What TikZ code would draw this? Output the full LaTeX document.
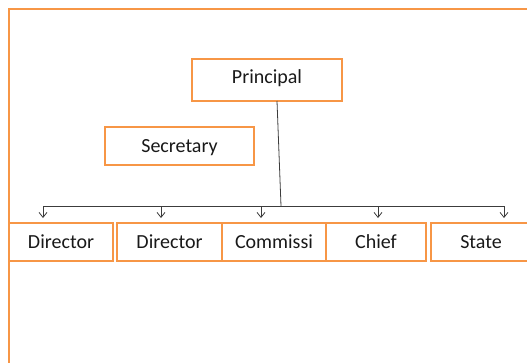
\documentclass[tikz,border=0pt]{standalone}
\usepackage{fontspec}
\setmainfont{Carlito}
\usepackage{tikz}
\usetikzlibrary{positioning,arrows.meta}

\definecolor{frameorange}{RGB}{247,150,70}
\definecolor{linegray}{RGB}{60,60,60}

\tikzset{
  post/.style={draw=frameorange,line width=2pt,rectangle,inner sep=0pt,outer sep=0pt,
    minimum height=38pt,text height=14pt,text depth=2pt,
    font=\fontsize{20}{22}\selectfont,text=black!90},
  wire/.style={draw=linegray,line width=0.8pt},
}

\begin{document}
\begin{tikzpicture}[x=1pt,y=-1pt,node distance=4pt,>={Straight Barb[length=5pt,width=8pt]}]
      \useasboundingbox (0,0) rectangle (527,362);
      % page frame
      \draw[frameorange,line width=2pt] (9,9) rectangle (560,400);
      % top
      \node[post,minimum width=150pt,minimum height=42pt,text depth=8pt] (prin) at (267,80) {Principal};
      \node[post,minimum width=149pt] (sec) at (179.5,146) {Secretary};
      % bottom row
      \node[post,minimum width=104pt] (dir1) at (61,242) {Director};
      \node[post,minimum width=105pt] (dir2) [right=4pt of dir1] {Director};
      \node[post,minimum width=104pt] (comm) [right=0pt of dir2] {Commissi};
      \node[post,minimum width=100pt] (chief) [right=0pt of comm] {Chief};
      \node[post,minimum width=100pt] (state) [right=5pt of chief] {State};
      % bus
      \coordinate (top) at (277,101);
      \coordinate (mid) at (281,206);
      \coordinate (b1) at (43,206);
      \coordinate (b2) at (161,206);
      \coordinate (b3) at (261,206);
      \coordinate (b4) at (378,206);
      \coordinate (b5) at (504,206);
      \draw[wire] (top) -- (mid);
      \draw[wire] (b1) -- (b5);
      \foreach \b/\n in {b1/dir1,b2/dir2,b3/comm,b4/chief,b5/state}
        \draw[wire,->,shorten >=5pt] (\b) -- (\b |- \n.north);
\end{tikzpicture}
\end{document}
